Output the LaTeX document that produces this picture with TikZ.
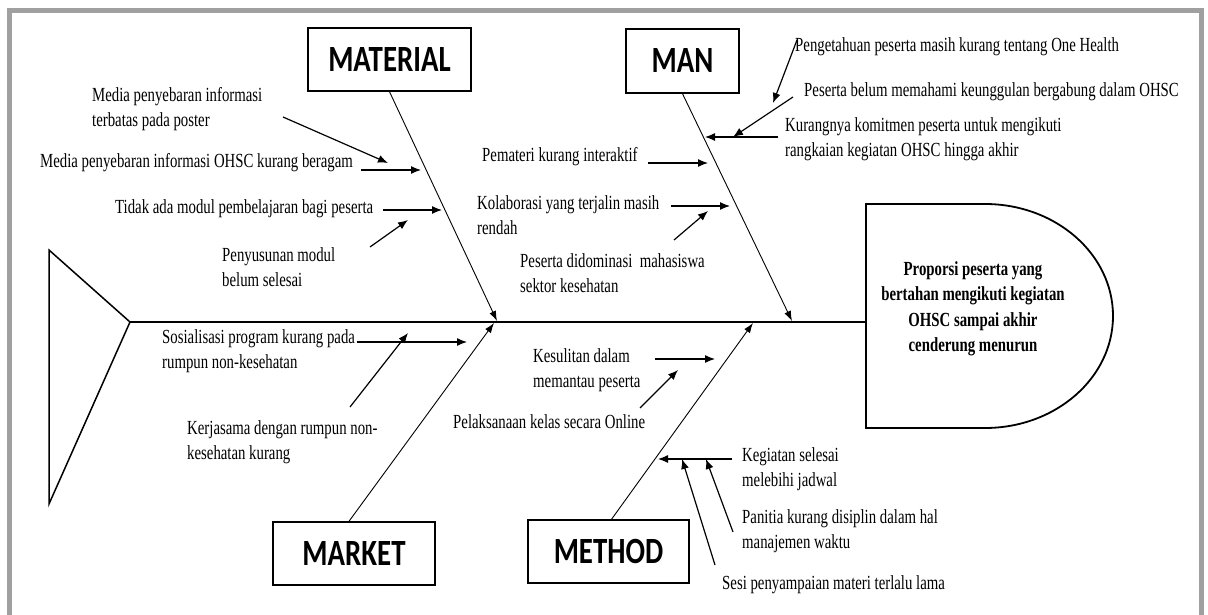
\documentclass[tikz,border=0pt]{standalone}
\usepackage{fontspec}
\usetikzlibrary{arrows.meta}
\newfontfamily\srfont[FakeStretch=0.74]{Liberation Serif}
\newfontfamily\catfont[FakeStretch=0.78]{Carlito}
\definecolor{framegray}{HTML}{A0A0A0}
\tikzset{
  bone/.style={line width=0.9pt, -{Latex[length=10pt,width=7pt]}},
  sub/.style={line width=1.2pt, -{Latex[length=10pt,width=8pt]}},
  catbox/.style={draw, line width=1.4pt, inner sep=0pt, font=\catfont\bfseries\fontsize{37}{42}\selectfont},
  lbl/.style={anchor=west, align=left, inner sep=0pt, font=\srfont\fontsize{20}{25}\selectfont},
}
\begin{document}
\begin{tikzpicture}[x=1pt,y=-1pt]
\useasboundingbox (0,0) rectangle (1208,615);
\fill[white] (0,0) rectangle (1208,615);
\begin{scope}
\clip (0,0) rectangle (1208,615);
\draw[framegray, line width=5pt] (9,11) rectangle (1201.5,660);
\end{scope}

% tail
\draw[line width=1.5pt] (49,250) -- (130,322) coordinate (tail) -- (49,504) -- cycle;

% head
\draw[line width=1.8pt] (866,204) -- (985,204) arc[start angle=-90, end angle=90, x radius=128, y radius=112] -- (866,428) -- cycle;
\coordinate (headL) at (866,322);
\node[align=center, inner sep=0pt, font=\srfont\bfseries\fontsize{20}{25.5}\selectfont] (effect) at (973,309)
  {Proporsi peserta yang\\bertahan mengikuti kegiatan\\OHSC sampai akhir\\cenderung menurun};

% spine
\draw[line width=2pt] (tail) -- (headL);

% category boxes
\node[catbox, minimum width=163pt, minimum height=63pt] (mat) at (389.5,59.5) {MATERIAL};
\node[catbox, minimum width=113pt, minimum height=64pt] (man) at (682.5,61) {MAN};
\node[catbox, minimum width=162pt, minimum height=63pt] (mkt) at (354,553.5) {MARKET};
\node[catbox, minimum width=161pt, minimum height=63pt] (mth) at (608.5,551.5) {METHOD};

% bone tips
\coordinate (matT) at (497,321);
\coordinate (manT) at (792,321);
\coordinate (mktT) at (494,323);
\coordinate (mthT) at (753,323);
\draw[bone] (mat.south) -- (matT);
\draw[bone] (man.south) -- (manT);
\draw[bone] ([xshift=-5pt]mkt.north) -- (mktT);
\draw[bone] ([xshift=3pt]mth.north) -- (mthT);

% labels
\node[lbl] (t1) at (92,109.5) {Media penyebaran informasi\\terbatas pada poster};
\node[lbl] (t2) at (40,163) {Media penyebaran informasi OHSC kurang beragam};
\node[lbl] (t3) at (115,209) {Tidak ada modul pembelajaran bagi peserta};
\node[lbl] (t4) at (222,267.5) {Penyusunan modul\\belum selesai};
\node[lbl] (t5) at (482,157) {Pemateri kurang interaktif};
\node[lbl] (t6) at (477,215) {Kolaborasi yang terjalin masih\\rendah};
\node[lbl] (t7) at (520,273.5) {Peserta didominasi\ \ mahasiswa\\sektor kesehatan};
\node[lbl] (t8) at (785,139) {Kurangnya komitmen peserta untuk mengikuti\\rangkaian kegiatan OHSC hingga akhir};
\node[lbl] (t9) at (804,92) {Peserta belum memahami keunggulan bergabung dalam OHSC};
\node[lbl] (t10) at (795,47) {Pengetahuan peserta masih kurang tentang One Health};
\node[lbl] (t11) at (162,351.5) {Sosialisasi program kurang pada\\rumpun non-kesehatan};
\node[lbl] (t12) at (187,442) {Kerjasama dengan rumpun non-\\kesehatan kurang};
\node[lbl] (t13) at (533,370) {Kesulitan dalam\\memantau peserta};
\node[lbl] (t14) at (453,422) {Pelaksanaan kelas secara Online};
\node[lbl] (t15) at (742,469.5) {Kegiatan selesai\\melebihi jadwal};
\node[lbl] (t16) at (742,531) {Panitia kurang disiplin dalam hal\\manajemen waktu};
\node[lbl] (t17) at (722,585) {Sesi penyampaian materi terlalu lama};

% arrow endpoints
\coordinate (a1s) at (283,117);  \coordinate (a1e) at (388,163);
\coordinate (a2s) at (361,170);  \coordinate (a2e) at (421,170);
\coordinate (a3s) at (383,210);  \coordinate (a3e) at (442,210);
\coordinate (a4s) at (370,247);  \coordinate (a4e) at (408,220);
\coordinate (a5s) at (648,163);  \coordinate (a5e) at (708,163);
\coordinate (a6s) at (671,206);  \coordinate (a6e) at (730,206);
\coordinate (a7s) at (674,240);  \coordinate (a7e) at (708,211);
\coordinate (a8s) at (778,137);  \coordinate (a8e) at (705,137);
\coordinate (a9s) at (793,97);   \coordinate (a9e) at (733,137);
\coordinate (a10s) at (797,40);  \coordinate (a10e) at (773,103);
\coordinate (a11s) at (357,342); \coordinate (a11e) at (467,342);
\coordinate (a12s) at (350,407); \coordinate (a12e) at (408,333);
\coordinate (a13s) at (655,359); \coordinate (a13e) at (715,359);
\coordinate (a14s) at (640,408); \coordinate (a14e) at (678,370);
\coordinate (a15s) at (732,459); \coordinate (a15e) at (658,459);
\coordinate (a16s) at (733,532); \coordinate (a16e) at (706,459);
\coordinate (a17s) at (715,565); \coordinate (a17e) at (682,459);

\foreach \i in {1,...,17} { \draw[sub] (a\i s) -- (a\i e); }
\end{tikzpicture}
\end{document}
